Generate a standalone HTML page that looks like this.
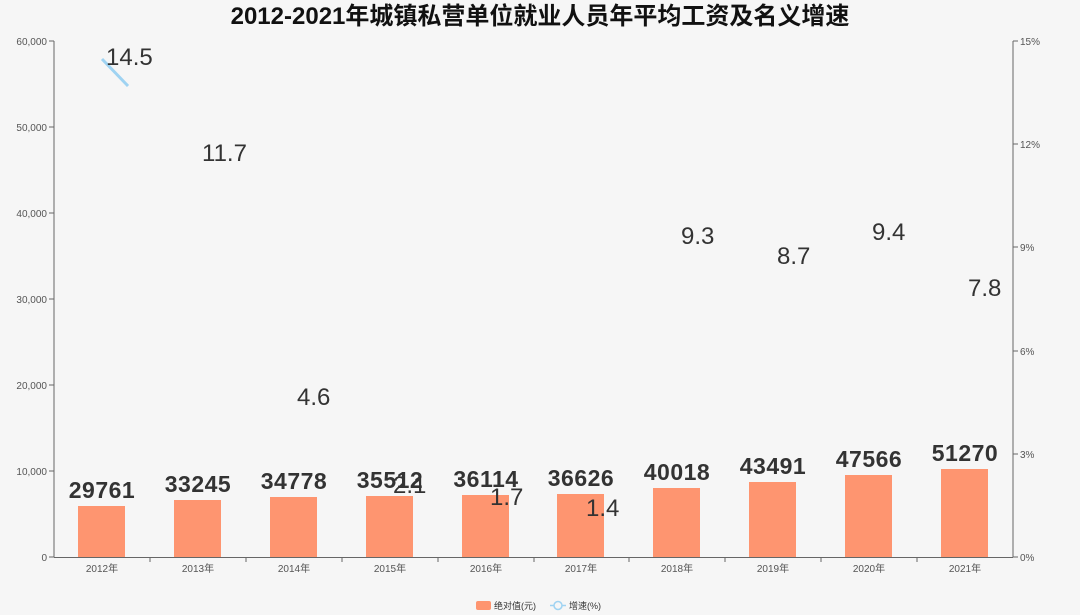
<!DOCTYPE html>
<html><head><meta charset="utf-8"><style>
body{margin:0;background:#f6f6f6;}
svg{display:block;font-family:"Liberation Sans","Noto Sans CJK SC",sans-serif;}
</style></head><body>
<svg width="1080" height="615" viewBox="0 0 1080 615">
<rect width="1080" height="615" fill="#f6f6f6"/>
<text x="540" y="24" text-anchor="middle" font-size="24" font-weight="bold" fill="#111">2012-2021年城镇私营单位就业人员年平均工资及名义增速</text>
<g stroke="#666" stroke-width="1">
<line x1="54" y1="41" x2="54" y2="557"/>
<line x1="1013" y1="41" x2="1013" y2="557"/>
<line x1="54" y1="557.5" x2="1013" y2="557.5"/>
<line x1="49" y1="41" x2="54" y2="41"/><line x1="49" y1="127" x2="54" y2="127"/><line x1="49" y1="213" x2="54" y2="213"/><line x1="49" y1="299" x2="54" y2="299"/><line x1="49" y1="385" x2="54" y2="385"/><line x1="49" y1="471" x2="54" y2="471"/><line x1="49" y1="557" x2="54" y2="557"/>
<line x1="1013" y1="41" x2="1018" y2="41"/><line x1="1013" y1="144" x2="1018" y2="144"/><line x1="1013" y1="247" x2="1018" y2="247"/><line x1="1013" y1="351" x2="1018" y2="351"/><line x1="1013" y1="454" x2="1018" y2="454"/><line x1="1013" y1="557" x2="1018" y2="557"/>
<line x1="150" y1="557" x2="150" y2="562"/><line x1="246" y1="557" x2="246" y2="562"/><line x1="342" y1="557" x2="342" y2="562"/><line x1="438" y1="557" x2="438" y2="562"/><line x1="534" y1="557" x2="534" y2="562"/><line x1="629" y1="557" x2="629" y2="562"/><line x1="725" y1="557" x2="725" y2="562"/><line x1="821" y1="557" x2="821" y2="562"/><line x1="917" y1="557" x2="917" y2="562"/>
</g>
<g font-size="10" fill="#555" text-anchor="end">
<text x="47" y="45">60,000</text><text x="47" y="131">50,000</text><text x="47" y="217">40,000</text><text x="47" y="303">30,000</text><text x="47" y="389">20,000</text><text x="47" y="475">10,000</text><text x="47" y="561">0</text>
</g>
<g font-size="10" fill="#555">
<text x="1020" y="45">15%</text><text x="1020" y="148">12%</text><text x="1020" y="251">9%</text><text x="1020" y="355">6%</text><text x="1020" y="458">3%</text><text x="1020" y="561">0%</text>
</g>
<g font-size="10" fill="#555" text-anchor="middle">
<text x="102" y="572">2012年</text><text x="198" y="572">2013年</text><text x="294" y="572">2014年</text><text x="390" y="572">2015年</text><text x="486" y="572">2016年</text><text x="581" y="572">2017年</text><text x="677" y="572">2018年</text><text x="773" y="572">2019年</text><text x="869" y="572">2020年</text><text x="965" y="572">2021年</text>
</g>
<g fill="#fe9570">
<rect x="78" y="506" width="47" height="51"/><rect x="174" y="500" width="47" height="57"/><rect x="270" y="497" width="47" height="60"/><rect x="366" y="496" width="47" height="61"/><rect x="462" y="495" width="47" height="62"/><rect x="557" y="494" width="47" height="63"/><rect x="653" y="488" width="47" height="69"/><rect x="749" y="482" width="47" height="75"/><rect x="845" y="475" width="47" height="82"/><rect x="941" y="469" width="47" height="88"/>
</g>
<g font-size="23" font-weight="bold" fill="#333" text-anchor="middle" letter-spacing="0.5">
<text x="102" y="498">29761</text><text x="198" y="492">33245</text><text x="294" y="489">34778</text><text x="390" y="488">35512</text><text x="486" y="487">36114</text><text x="581" y="486">36626</text><text x="677" y="480">40018</text><text x="773" y="474">43491</text><text x="869" y="467">47566</text><text x="965" y="461">51270</text>
</g>
<line x1="102" y1="59" x2="128" y2="86" stroke="#9fd3f2" stroke-width="3"/>
<g font-size="24" fill="#333">
<text x="106" y="65">14.5</text><text x="202" y="161">11.7</text><text x="297" y="405">4.6</text><text x="393" y="493">2.1</text><text x="490" y="505">1.7</text><text x="586" y="516">1.4</text><text x="681" y="244">9.3</text><text x="777" y="264">8.7</text><text x="872" y="240">9.4</text><text x="968" y="296">7.8</text>
</g>
<rect x="476" y="601" width="15" height="9" rx="2" fill="#fe9570"/>
<text x="494" y="609" font-size="9" fill="#333">绝对值(元)</text>
<line x1="550" y1="605.5" x2="566" y2="605.5" stroke="#9fd3f2" stroke-width="1.5"/>
<circle cx="558" cy="605.5" r="4" fill="#f6f6f6" stroke="#9fd3f2" stroke-width="1.5"/>
<text x="569" y="609" font-size="9" fill="#333">增速(%)</text>
</svg>
</body></html>
